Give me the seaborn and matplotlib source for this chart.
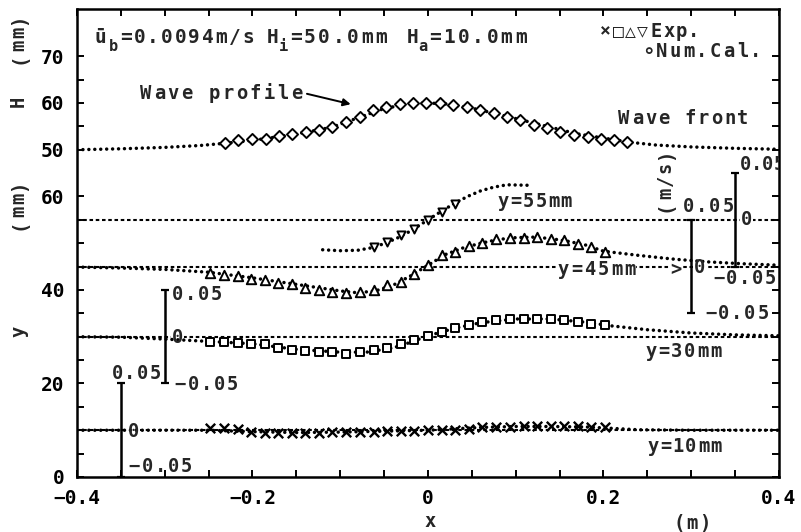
import numpy as np
import matplotlib
matplotlib.use("Agg")
import matplotlib.pyplot as plt
import matplotlib.patches as mpatches
import matplotlib.transforms as mtransforms
import seaborn as sns

# ---------------------------------------------------------------- data
# measuring stations of the velocity profiles (m)
x_exp = [-0.248, -0.233, -0.217, -0.202, -0.186, -0.171, -0.155, -0.140, -0.124, -0.109,
         -0.093, -0.078, -0.062, -0.047, -0.031, -0.016, 0.000, 0.016, 0.031, 0.047,
         0.062, 0.078, 0.093, 0.109, 0.124, 0.140, 0.155, 0.171, 0.186, 0.202]

# wave profile, experiment (diamonds): H in mm
x_wave = [-0.231, -0.216, -0.200, -0.185, -0.170, -0.155, -0.139, -0.124, -0.109, -0.093,
          -0.078, -0.063, -0.048, -0.032, -0.017, -0.002, 0.014, 0.029, 0.044, 0.059,
          0.075, 0.090, 0.105, 0.121, 0.136, 0.151, 0.166, 0.182, 0.197, 0.212, 0.227]
H_exp = [51.5, 52.0, 52.2, 52.4, 52.9, 53.3, 53.8, 54.3, 54.9, 56.0,
         57.1, 58.4, 59.1, 59.8, 60.0, 60.0, 60.0, 59.6, 59.1, 58.5,
         57.8, 57.1, 56.4, 55.3, 54.6, 53.8, 53.1, 52.8, 52.4, 52.0, 51.7]

# wave profile, numerical calculation
x_wave_cal = [-0.40, -0.35, -0.30, -0.26, -0.23, -0.20, -0.17, -0.14, -0.11, -0.08, -0.05,
              -0.02, 0.00, 0.02, 0.05, 0.08, 0.11, 0.14, 0.17, 0.20, 0.23, 0.26, 0.30,
              0.35, 0.40]
H_cal = [50.0, 50.2, 50.5, 50.9, 51.4, 52.0, 52.8, 53.7, 54.8, 56.8, 58.8,
         59.9, 60.0, 59.8, 58.9, 57.6, 56.2, 54.8, 53.4, 52.5, 51.6, 51.0, 50.6,
         50.3, 50.1]

# velocity profiles u (m/s) at y = 55 mm
x_u55 = [-0.062, -0.047, -0.031, -0.016, 0.000, 0.016, 0.031]
u55_exp = [-0.029, -0.024, -0.0165, -0.0095, -0.0005, 0.0085, 0.017]
x_u55_cal = [-0.120, -0.100, -0.080, -0.065, -0.050, -0.035, -0.020, 0.000, 0.015,
             0.030, 0.045, 0.060, 0.075, 0.090, 0.113]
u55_cal = [-0.032, -0.033, -0.0325, -0.030, -0.0255, -0.0195, -0.012, 0.0, 0.009,
           0.0175, 0.025, 0.031, 0.035, 0.0375, 0.037]

# y = 45 mm
u45_exp = [-0.0070, -0.0095, -0.0105, -0.0130, -0.0145, -0.0175, -0.0190, -0.0225, -0.0245, -0.0270,
           -0.0280, -0.0270, -0.0255, -0.0200, -0.0165, -0.0075, 0.0020, 0.0120, 0.0155, 0.0225,
           0.0250, 0.0290, 0.0310, 0.0310, 0.0315, 0.0300, 0.0280, 0.0245, 0.0215, 0.0155]
x_u45_cal = [-0.40, -0.35, -0.30, -0.25, -0.20, -0.15, -0.10, -0.08, -0.06, -0.04, -0.02,
             0.00, 0.02, 0.04, 0.06, 0.08, 0.10, 0.12, 0.14, 0.16, 0.18, 0.20, 0.24,
             0.28, 0.32, 0.36, 0.40]
u45_cal = [-0.0005, -0.0015, -0.003, -0.006, -0.012, -0.019, -0.026, -0.028, -0.026, -0.020, -0.010,
           0.0015, 0.013, 0.020, 0.025, 0.029, 0.031, 0.0315, 0.030, 0.027, 0.023, 0.0165, 0.012,
           0.008, 0.005, 0.003, 0.0015]

# y = 30 mm
u30_exp = [-0.0055, -0.0055, -0.0065, -0.0075, -0.0080, -0.0125, -0.0145, -0.0150, -0.0160, -0.0160,
           -0.0180, -0.0160, -0.0145, -0.0125, -0.0080, -0.0035, 0.0010, 0.0050, 0.0090, 0.0125,
           0.0160, 0.0175, 0.0195, 0.0195, 0.0195, 0.0185, 0.0175, 0.0160, 0.0135, 0.0125]
x_u30_cal = [-0.40, -0.35, -0.30, -0.25, -0.20, -0.15, -0.10, -0.07, -0.04, -0.02, 0.00,
             0.03, 0.06, 0.10, 0.14, 0.18, 0.21, 0.25, 0.30, 0.35, 0.40]
u30_cal = [0.0, -0.0005, -0.0025, -0.005, -0.0075, -0.0135, -0.0165, -0.0165, -0.012, -0.006, 0.001,
           0.009, 0.015, 0.019, 0.019, 0.0155, 0.0115, 0.0075, 0.004, 0.002, 0.001]

# y = 10 mm
u10_exp = [0.0025, 0.0020, 0.0010, -0.0020, -0.0025, -0.0025, -0.0025, -0.0025, -0.0025, -0.0020,
           -0.0020, -0.0020, -0.0015, -0.0010, -0.0010, -0.0005, 0.0, 0.0, 0.0005, 0.0015,
           0.0030, 0.0035, 0.0035, 0.0040, 0.0045, 0.0045, 0.0045, 0.0040, 0.0030, 0.0030]
x_u10_cal = [-0.40, -0.30, -0.25, -0.20, -0.15, -0.10, -0.05, 0.00, 0.03, 0.06, 0.10, 0.14,
             0.18, 0.21, 0.24, 0.30, 0.40]
u10_cal = [0.0, 0.0, 0.0, -0.0015, -0.0025, -0.002, -0.001, 0.0, 0.0015, 0.003, 0.004, 0.004,
           0.0035, 0.002, 0.0005, 0.0, 0.0]

# profile levels (mm) and positions of their velocity scale bars (m)
levels = [55, 45, 30, 10]
bar_x = [0.35, 0.30, -0.30, -0.35]
U_BAR = 0.05            # m/s shown by each scale bar
MM_PER_MS = 10 / U_BAR  # 0.05 m/s is drawn as 10 mm
H_SHIFT = 20            # H axis (50..70 mm) sits 20 mm above the y axis

y_ticks = [0, 20, 40, 60]
H_ticks = [50, 60, 70]
x_ticks = [-0.4, -0.2, 0.0, 0.2, 0.4]
x_ticklabels = ["\u22120.4", "\u22120.2", "0", "0.2", "0.4"]

# ---------------------------------------------------------------- style
sns.set_theme(style="ticks")
MONO = ["DejaVu Sans Mono", "DejaVu Sans"]
plt.rcParams.update({
    "font.family": MONO,
    "font.weight": "bold",
    "axes.linewidth": 1.8,
    "axes.edgecolor": "black",
    "xtick.color": "black",
    "ytick.color": "black",
    "figure.facecolor": "white",
    "axes.facecolor": "white",
})

fig = plt.figure(figsize=(8.01, 5.32), dpi=100)
ax = fig.add_axes([0.0961, 0.1034, 0.8764, 0.8788])
ax.set_xlim(-0.4, 0.4)
ax.set_ylim(0, 100)

CAL = dict(color="black", lw=2.5, linestyle=(0, (0.01, 1.7)),
           dash_capstyle="round", zorder=2)
OPEN = dict(facecolor="white", edgecolor="black", linewidth=1.4, zorder=3, legend=False)


def spaced(x, y, s, adv=13.0, size=13.5, ha="left", rot=0, bg=False, clip=False, z=5):
    """Typewriter-like text: every character sits in a cell `adv` pixels wide."""
    k = 72.0 / fig.dpi
    n = len(s)
    start = {"left": 0.5 * adv, "center": -0.5 * (n - 1) * adv,
             "right": -n * adv + 0.5 * adv}[ha]
    half = 0.36 * size
    if bg:
        T = (mtransforms.Affine2D().scale(1 / 72) + fig.dpi_scale_trans
             + mtransforms.ScaledTranslation(x, y, ax.transData))
        x0 = (start - 0.5 * adv) * k
        ax.add_patch(mpatches.Rectangle((x0, -0.62 * size), n * adv * k, 1.24 * size,
                                        transform=T, facecolor="white",
                                        edgecolor="none", zorder=1.5, clip_on=False))
    for i, ch in enumerate(s):
        d = (start + i * adv) * k
        off = (d, -half) if rot == 0 else (half, d)
        ax.annotate(ch, (x, y), xytext=off, textcoords="offset points",
                    ha="center", va="baseline", rotation=rot, rotation_mode="anchor",
                    fontsize=size, fontweight="bold", family=MONO,
                    annotation_clip=False, clip_on=clip, zorder=z)


# ---------------------------------------------------------------- zero lines of the profiles
for lv in levels:
    ax.axhline(lv, color="black", lw=1.5, linestyle=(0, (1.7, 1.3)), zorder=1)

# ---------------------------------------------------------------- wave profile
sns.lineplot(x=x_wave_cal, y=np.array(H_cal) + H_SHIFT, ax=ax, sort=False,
             estimator=None, errorbar=None, legend=False, **CAL)
sns.scatterplot(x=x_wave, y=np.array(H_exp) + H_SHIFT, marker="D", s=32, ax=ax, **OPEN)

# ---------------------------------------------------------------- velocity profiles
profiles = [
    (55, x_u55, u55_exp, x_u55_cal, u55_cal, "v", 34),
    (45, x_exp, u45_exp, x_u45_cal, u45_cal, "^", 46),
    (30, x_exp, u30_exp, x_u30_cal, u30_cal, "s", 40),
]
for lv, xe, ue, xc, uc, mk, size in profiles:
    sns.lineplot(x=xc, y=lv + np.array(uc) * MM_PER_MS, ax=ax, sort=False,
                 estimator=None, errorbar=None, legend=False, **CAL)
    sns.scatterplot(x=xe, y=lv + np.array(ue) * MM_PER_MS, marker=mk, s=size, ax=ax, **OPEN)

sns.lineplot(x=x_u10_cal, y=10 + np.array(u10_cal) * MM_PER_MS, ax=ax, sort=False,
             estimator=None, errorbar=None, legend=False, **CAL)
sns.scatterplot(x=x_exp, y=10 + np.array(u10_exp) * MM_PER_MS, marker="x", s=46,
                color="black", linewidth=1.7, zorder=3, legend=False, ax=ax)

# ---------------------------------------------------------------- velocity scale bars
for lv, bx in zip(levels, bar_x):
    ax.errorbar(bx, lv, yerr=U_BAR * MM_PER_MS, fmt="none", ecolor="black",
                elinewidth=1.8, capsize=3, capthick=1.6, zorder=4)

MINUS = "\u2212"
# y = 55 mm bar
spaced(0.356, 67.2, "0.05", adv=11.0, clip=True)
spaced(0.3625, 55.3, "0", ha="center", bg=True)
spaced(0.324, 42.8, MINUS + "0.05")
# y = 45 mm bar
spaced(0.290, 58.2, "0.05")
spaced(0.309, 45.0, "0", ha="center", bg=True)
spaced(0.315, 35.3, MINUS + "0.05")
spaced(0.283, 44.7, ">", ha="center", bg=True)
# y = 30 mm bar
spaced(-0.293, 39.4, "0.05")
spaced(-0.285, 30.0, "0", ha="center", bg=True)
spaced(-0.290, 20.1, MINUS + "0.05")
# y = 10 mm bar
spaced(-0.361, 22.5, "0.05", adv=12.5)
spaced(-0.336, 10.0, "0", ha="center", bg=True)
spaced(-0.342, 2.6, MINUS + "0.05")
spaced(0.269, 63.5, "(m/s)", ha="center", rot=90)

# ---------------------------------------------------------------- annotations
spaced(-0.352, 94.3, "=0.0094m/s", adv=13.6, size=14)
spaced(-0.373, 94.3, "\u016b", ha="center", size=14)
spaced(-0.359, 92.4, "b", ha="center", size=11)
spaced(-0.177, 94.3, "H", ha="center", size=14)
spaced(-0.165, 92.4, "i", ha="center", size=11)
spaced(-0.159, 94.3, "=50.0mm", adv=14.3, size=14)
spaced(-0.017, 94.3, "H", ha="center", size=14)
spaced(-0.006, 92.4, "a", ha="center", size=11)
spaced(0.000, 94.3, "=10.0mm", adv=14.3, size=14)

# legend
spaced(0.1955, 95.6, "\u00d7\u25a1\u25b3\u25bd", adv=12.3, size=13)
spaced(0.2530, 95.6, "Exp.", adv=12.5)
spaced(0.243, 91.3, "\u2218", ha="left", adv=13.5, size=15)
spaced(0.2583, 91.3, "Num.Cal.", adv=13.5)

spaced(-0.3295, 82.4, "Wave profile", adv=13.7)
ax.annotate("", xy=(-0.085, 79.6), xytext=(-0.141, 82.1),
            arrowprops=dict(arrowstyle="-|>", color="black", lw=1.4, mutation_scale=11),
            zorder=5)
spaced(0.216, 77.0, "Wave front", adv=13.2)

spaced(0.078, 59.3, "y=55mm", adv=12.7)
spaced(0.1466, 44.7, "y=45mm", adv=13.3, bg=True)
spaced(0.2466, 27.2, "y=30mm", adv=13.0)
spaced(0.249, 6.8, "y=10mm", adv=12.7)

# ---------------------------------------------------------------- axes, ticks, labels
ax.set_xticks(x_ticks, x_ticklabels)
ax.set_xticks([-0.35, -0.3, -0.25, -0.15, -0.1, -0.05, 0.05, 0.1, 0.15, 0.25, 0.3, 0.35],
              minor=True)
ax.set_yticks(y_ticks + [h + H_SHIFT for h in H_ticks],
              [str(v) for v in y_ticks] + [str(h) for h in H_ticks])
ax.set_yticks([5, 10, 15, 25, 30, 35, 45, 50, 55, 75, 85], minor=True)
ax.tick_params(which="both", direction="in", length=5, width=1.4,
               top=True, right=True)
ax.tick_params(axis="both", labelsize=14, pad=9)
for lab in ax.get_xticklabels() + ax.get_yticklabels():
    lab.set_fontweight("bold")
ax.set_xlabel("")
ax.set_ylabel("")

spaced(0.002, -9.2, "x", ha="center")
spaced(0.301, -9.6, "(m)", ha="center")
spaced(-0.468, 80.4, "H", ha="center", rot=90)
spaced(-0.468, 93.7, "(mm)", ha="center", rot=90)
spaced(-0.468, 58.2, "(mm)", ha="center", rot=90)
spaced(-0.468, 31.2, "y", ha="center", rot=90)

fig.savefig("out.png", dpi=100)
